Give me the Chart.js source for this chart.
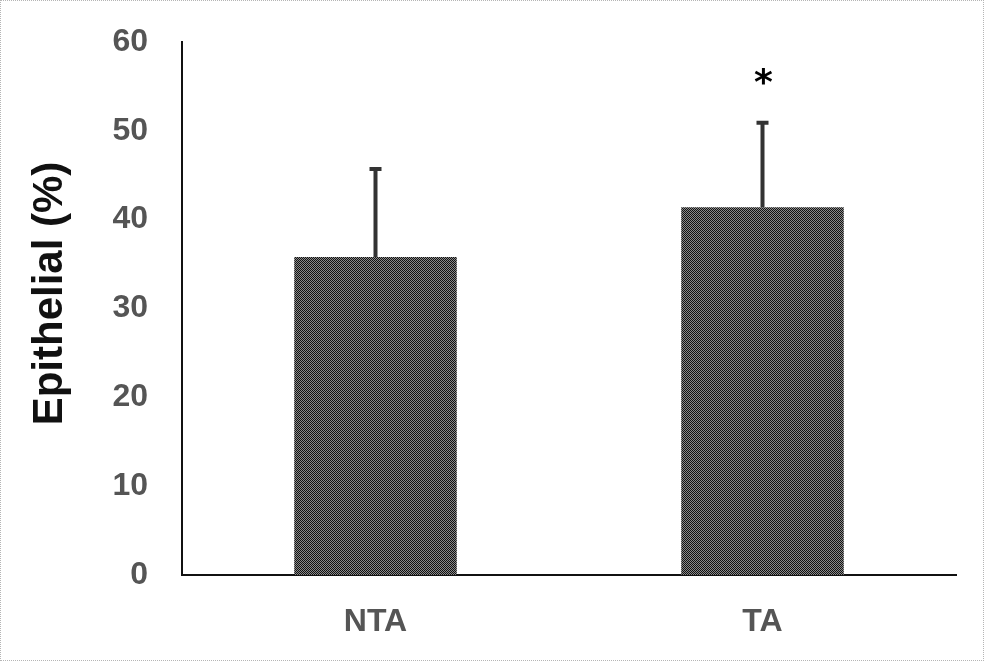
<!DOCTYPE html>
<html>
<head>
<meta charset="utf-8">
<script src="https://cdn.jsdelivr.net/npm/chart.js@4/dist/chart.umd.min.js"></script>
<style>
  html, body { margin: 0; padding: 0; background: #fff; }
  #wrap { position: relative; width: 984px; height: 661px; box-sizing: border-box; border: 1px dotted #b5b5b5; }
  #c { position: absolute; left: 0; top: 0; }
</style>
</head>
<body>
<div id="wrap"><canvas id="c" width="984" height="661"></canvas></div>
<script>
// Group labels, mean epithelial fraction and upper error (mean + SD)
const categories = ['NTA', 'TA'];
const meanValues = [35.8, 41.4];
const errorTops = [45.7, 50.9];
const significance = ['', '*'];
const yTicks = [0, 10, 20, 30, 40, 50, 60];
const yTitle = 'Epithelial (%)';

// Fine checker fill for the bars
function checkerPattern() {
  const p = document.createElement('canvas');
  p.width = 2; p.height = 2;
  const g = p.getContext('2d');
  g.fillStyle = '#8a8a8a'; g.fillRect(0, 0, 2, 2);
  g.fillStyle = '#111'; g.fillRect(0, 0, 1, 1); g.fillRect(1, 1, 1, 1);
  return g.createPattern(p, 'repeat');
}
const barFill = checkerPattern();

// Upward-only error bars with a short cap, plus significance marks
const errorBarPlugin = {
  id: 'errorBars',
  afterDatasetsDraw(chart) {
    const ctx = chart.ctx;
    const y = chart.scales.y;
    const meta = chart.getDatasetMeta(0);
    ctx.save();
    meta.data.forEach((bar, i) => {
      const x = bar.x;
      const yTop = y.getPixelForValue(errorTops[i]);
      const yBase = y.getPixelForValue(meanValues[i]);
      ctx.strokeStyle = '#333';
      ctx.lineWidth = 4;
      ctx.beginPath();
      ctx.moveTo(x, yBase);
      ctx.lineTo(x, yTop);
      ctx.moveTo(x - 6, yTop);
      ctx.lineTo(x + 6, yTop);
      ctx.stroke();
      if (significance[i]) {
        ctx.fillStyle = '#000';
        ctx.font = 'bold 36px "DejaVu Sans"';
        ctx.textAlign = 'center';
        ctx.textBaseline = 'middle';
        ctx.fillText(significance[i], x + 1, y.getPixelForValue(55.2));
      }
    });
    ctx.restore();
  }
};

// Vertical axis title, set slightly above the middle of the axis
const axisTitlePlugin = {
  id: 'axisTitle',
  afterDraw(chart) {
    const ctx = chart.ctx;
    const area = chart.chartArea;
    ctx.save();
    ctx.translate(61, (area.top + area.bottom) / 2 - 15);
    ctx.rotate(-Math.PI / 2);
    ctx.fillStyle = '#111';
    ctx.font = 'bold 42px "Liberation Sans"';
    ctx.textAlign = 'center';
    ctx.textBaseline = 'alphabetic';
    ctx.fillText(yTitle, 0, 0);
    ctx.restore();
  }
};

new Chart(document.getElementById('c'), {
  type: 'bar',
  data: {
    labels: categories,
    datasets: [{
      data: meanValues,
      backgroundColor: barFill,
      borderWidth: 0,
      barPercentage: 0.42,
      categoryPercentage: 1.0
    }]
  },
  options: {
    responsive: false,
    animation: false,
    devicePixelRatio: 1,
    layout: { padding: { top: 41, right: 29, bottom: 0, left: 0 } },
    plugins: { legend: { display: false }, tooltip: { enabled: false } },
    scales: {
      x: {
        grid: { display: false, drawTicks: false },
        border: { color: '#111', width: 2 },
        ticks: { color: '#555', padding: 28, font: { family: '"Liberation Sans"', weight: 'bold', size: 32 } },
        afterFit(scale) { scale.height = 87; }
      },
      y: {
        min: 0, max: 60,
        afterBuildTicks(scale) { scale.ticks = yTicks.map(v => ({ value: v })); },
        grid: { display: false, drawTicks: false },
        border: { color: '#111', width: 2 },
        ticks: { color: '#555', padding: 34, font: { family: '"Liberation Sans"', weight: 'bold', size: 32 } },
        afterFit(scale) {
          scale.width = 181;
          scale.paddingTop = 0;
        }
      }
    }
  },
  plugins: [errorBarPlugin, axisTitlePlugin]
});
</script>
</body>
</html>
